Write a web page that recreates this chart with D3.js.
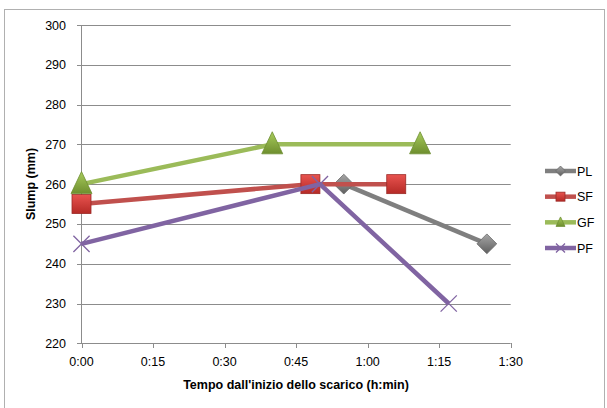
<!DOCTYPE html>
<html><head><meta charset="utf-8">
<script src="https://cdn.jsdelivr.net/npm/d3@7/dist/d3.min.js"></script>
<style>body{margin:0;background:#fff}svg{display:block}text{font-family:"Liberation Sans",Arial,sans-serif}</style>
</head><body><svg id="c" width="607" height="408"></svg>
<script>
const seriesNames = ["PL","SF","GF","PF"];
const PL = [[55,260],[85,245]];
const SF = [[0,255],[48,260],[66,260]];
const GF = [[0,260],[40,270],[71,270]];
const PF = [[0,245],[50,260],[77,230]];
const xTicks = [0,15,30,45,60,75,90];
const xTickLabels = ["0:00","0:15","0:30","0:45","1:00","1:15","1:30"];
const yTicks = [220,230,240,250,260,270,280,290,300];
const data = {PL, SF, GF, PF};
const colors = {PL:"#7f7f7f", SF:"#c0504d", GF:"#9bbb59", PF:"#8064a2"};

const svg = d3.select("#c");
const defs = svg.append("defs");
function grad(id, c1, c2){
  const g = defs.append("linearGradient").attr("id",id).attr("x1",0).attr("y1",0).attr("x2",0).attr("y2",1);
  g.append("stop").attr("offset","0%").attr("stop-color",c1);
  g.append("stop").attr("offset","100%").attr("stop-color",c2);
}
grad("gPL","#a6a6a6","#5f5f5f");
grad("gSF","#e8534f","#b52a26");
grad("gGF","#a8cc5c","#6e8e2e");

svg.append("rect").attr("x",4.5).attr("y",9.5).attr("width",600).attr("height",410)
  .attr("fill","#fff").attr("stroke","#b0b0b0");

const x = d3.scaleLinear().domain([0,90]).range([81.5,510.7]);
const y = d3.scaleLinear().domain([220,300]).range([343.3,25]);

svg.append("g").selectAll("line").data(yTicks).join("line")
  .attr("x1",77).attr("x2",510.7).attr("y1",d=>Math.round(y(d))+0.5).attr("y2",d=>Math.round(y(d))+0.5)
  .attr("stroke","#8c8c8c").attr("stroke-width",1);
svg.append("line").attr("x1",81.5).attr("x2",81.5).attr("y1",25).attr("y2",343.5).attr("stroke","#8c8c8c");
svg.append("g").selectAll("line").data(xTicks).join("line")
  .attr("x1",d=>Math.round(x(d))+0.5).attr("x2",d=>Math.round(x(d))+0.5).attr("y1",343).attr("y2",348)
  .attr("stroke","#8c8c8c");

svg.append("g").selectAll("text").data(yTicks).join("text")
  .attr("x",66).attr("y",d=>y(d)+4.5).attr("text-anchor","end").attr("font-size",12.5).attr("fill","#000")
  .text(d=>d);
svg.append("g").selectAll("text").data(xTicks).join("text")
  .attr("x",d=>x(d)).attr("y",366).attr("text-anchor","middle").attr("font-size",12.5).attr("fill","#000")
  .text((d,i)=>xTickLabels[i]);

svg.append("text").attr("x",296).attr("y",389).attr("text-anchor","middle").attr("font-size",12.5).attr("font-weight","bold")
  .text("Tempo dall'inizio dello scarico (h:min)");
svg.append("text").attr("transform","translate(35,184) rotate(-90)").attr("text-anchor","middle").attr("font-size",12.5).attr("font-weight","bold")
  .text("Slump (mm)");

const line = d3.line().x(d=>x(d[0])).y(d=>y(d[1]));

function marker(g, name, cx, cy, s){
  if(name==="PL"){
    g.append("path").attr("d",`M${cx},${cy-s*0.55}L${cx+s*0.55},${cy}L${cx},${cy+s*0.55}L${cx-s*0.55},${cy}Z`)
      .attr("fill","url(#gPL)").attr("stroke","#6a6a6a").attr("stroke-width",0.8);
  } else if(name==="SF"){
    g.append("rect").attr("x",cx-s/2).attr("y",cy-s/2).attr("width",s).attr("height",s)
      .attr("fill","url(#gSF)").attr("stroke","#9c2a26").attr("stroke-width",0.8);
  } else if(name==="GF"){
    g.append("path").attr("d",`M${cx},${cy-s*0.6}L${cx+s*0.5},${cy+s*0.45}L${cx-s*0.5},${cy+s*0.45}Z`)
      .attr("fill","url(#gGF)").attr("stroke","#6f8f33").attr("stroke-width",0.8);
  } else {
    const h = s*0.45;
    g.append("path").attr("d",`M${cx-h},${cy-h}L${cx+h},${cy+h}M${cx+h},${cy-h}L${cx-h},${cy+h}`)
      .attr("stroke","#8064a2").attr("stroke-width",1.3).attr("fill","none");
  }
}
const sizes = {PL:18, SF:19, GF:21, PF:18};
seriesNames.forEach(n=>{
  const g = svg.append("g");
  g.append("path").datum(data[n]).attr("d",line).attr("fill","none").attr("stroke",colors[n])
    .attr("stroke-width",4.5).attr("stroke-linejoin","round");
  data[n].forEach(p=>marker(g,n,x(p[0]),y(p[1]),sizes[n]));
});

const leg = svg.append("g");
const ly = d3.scalePoint().domain(seriesNames).range([171,248]);
seriesNames.forEach(n=>{
  const yy = ly(n);
  leg.append("line").attr("x1",545).attr("x2",576).attr("y1",yy).attr("y2",yy).attr("stroke",colors[n]).attr("stroke-width",4.5);
  marker(leg,n,560.5,yy,n==="PF"?10:9);
  leg.append("text").attr("x",577).attr("y",yy+4.5).attr("font-size",12.5).text(n);
});
</script></body></html>
